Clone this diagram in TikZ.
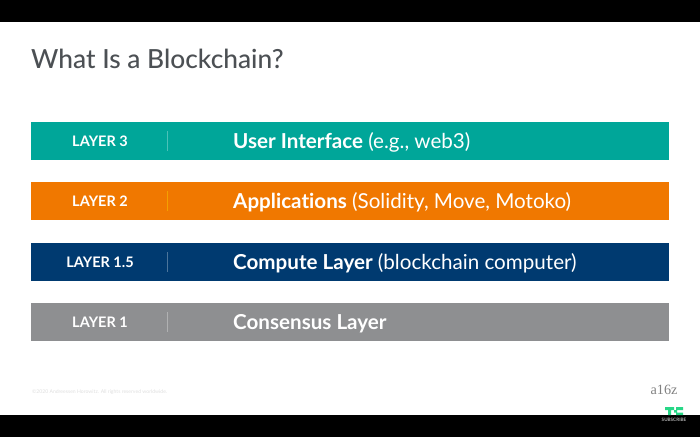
\documentclass[tikz,border=0pt]{standalone}
\usepackage{fontspec}
\setmainfont[Ligatures=NoCommon]{Lato}
\newfontfamily\logofont{Liberation Serif}
\newfontfamily\titlefont{Lato Medium}
\usetikzlibrary{positioning}
\definecolor{tealbar}{RGB}{0,166,153}
\definecolor{orangebar}{RGB}{240,120,0}
\definecolor{navybar}{RGB}{0,58,112}
\definecolor{greybar}{RGB}{142,143,145}
\definecolor{titlegrey}{RGB}{76,80,84}
\definecolor{tcgreen}{RGB}{40,215,135}
\begin{document}
\begin{tikzpicture}[x=1pt,y=-1pt,
    bar/.style={fill=#1,minimum width=638pt,minimum height=38pt,inner sep=0pt,outer sep=0pt},
    tag/.style={text=white,font=\fontsize{14.5}{16}\selectfont\bfseries,anchor=center},
    head/.style={text=white,font=\fontsize{20.6}{23}\selectfont,anchor=base west,inner sep=0pt},
    divider/.style={draw=#1,line width=0.6pt}]
  \useasboundingbox (0,0) rectangle (700,437);
  \fill[black] (0,0) rectangle (700,22);
  \fill[black] (0,415) rectangle (700,437);
  \node[anchor=base west,inner sep=0pt,text=titlegrey,font=\fontsize{26.3}{30}\titlefont] (title) at (31,68) {What Is a Blockchain?};
  % the four layers
  \node[bar=tealbar,anchor=north west] (barthree) at (31,122) {};
  \node[bar=orangebar,below=22pt of barthree] (bartwo) {};
  \node[bar=navybar,below=23pt of bartwo] (baronehalf) {};
  \node[bar=greybar,below=22pt of baronehalf] (barone) {};
  \node[tag] (tagthree) at ([xshift=69pt]barthree.west) {LAYER 3};
  \node[tag] (tagtwo) at ([xshift=69pt]bartwo.west) {LAYER 2};
  \node[tag] (tagonehalf) at ([xshift=69pt]baronehalf.west) {LAYER 1.5};
  \node[tag] (tagone) at ([xshift=69pt]barone.west) {LAYER 1};
  \draw[divider=tealbar!70!white] ([shift={(136pt,-10pt)}]barthree.west) -- ([shift={(136pt,10pt)}]barthree.west);
  \draw[divider=orangebar!70!yellow] ([shift={(136pt,-10pt)}]bartwo.west) -- ([shift={(136pt,10pt)}]bartwo.west);
  \draw[divider=navybar!70!white] ([shift={(136pt,-10pt)}]baronehalf.west) -- ([shift={(136pt,10pt)}]baronehalf.west);
  \draw[divider=greybar!70!white] ([shift={(136pt,-10pt)}]barone.west) -- ([shift={(136pt,10pt)}]barone.west);
  \node[head] (headthree) at ([shift={(202pt,-7pt)}]barthree.west) {\textbf{User Interface} (e.g., web3)};
  \node[head] (headtwo) at ([shift={(202pt,-7pt)}]bartwo.west) {\textbf{Applications} (Solidity, Move, Motoko)};
  \node[head] (headonehalf) at ([shift={(202pt,-7pt)}]baronehalf.west) {\textbf{Compute Layer} (blockchain computer)};
  \node[head] (headone) at ([shift={(202pt,-7pt)}]barone.west) {\textbf{Consensus Layer}};
  % footer
  \node[anchor=base west,inner sep=0pt,text=black!13,font=\fontsize{5.1}{6}\selectfont] (legal) at (32,393.5) {©2020 Andreessen Horowitz. All rights reserved worldwide.};
  \node[anchor=base,inner sep=0pt,text=black!50,font=\fontsize{14.2}{14}\logofont] (logo) at (664,394) {a16z};
  \fill[tcgreen] (665,407) rectangle (674,410) (668,407) rectangle (671,415);
  \fill[tcgreen] (676,407) rectangle (683,410) (674,410) rectangle (677,412.5) (676,412.5) rectangle (683,415);
  \node[anchor=base,inner sep=0pt,text=white!70!black,font=\fontsize{4.6}{5}\selectfont\bfseries] (subscribe) at (674,421) {SUBSCRIBE};
\end{tikzpicture}
\end{document}
